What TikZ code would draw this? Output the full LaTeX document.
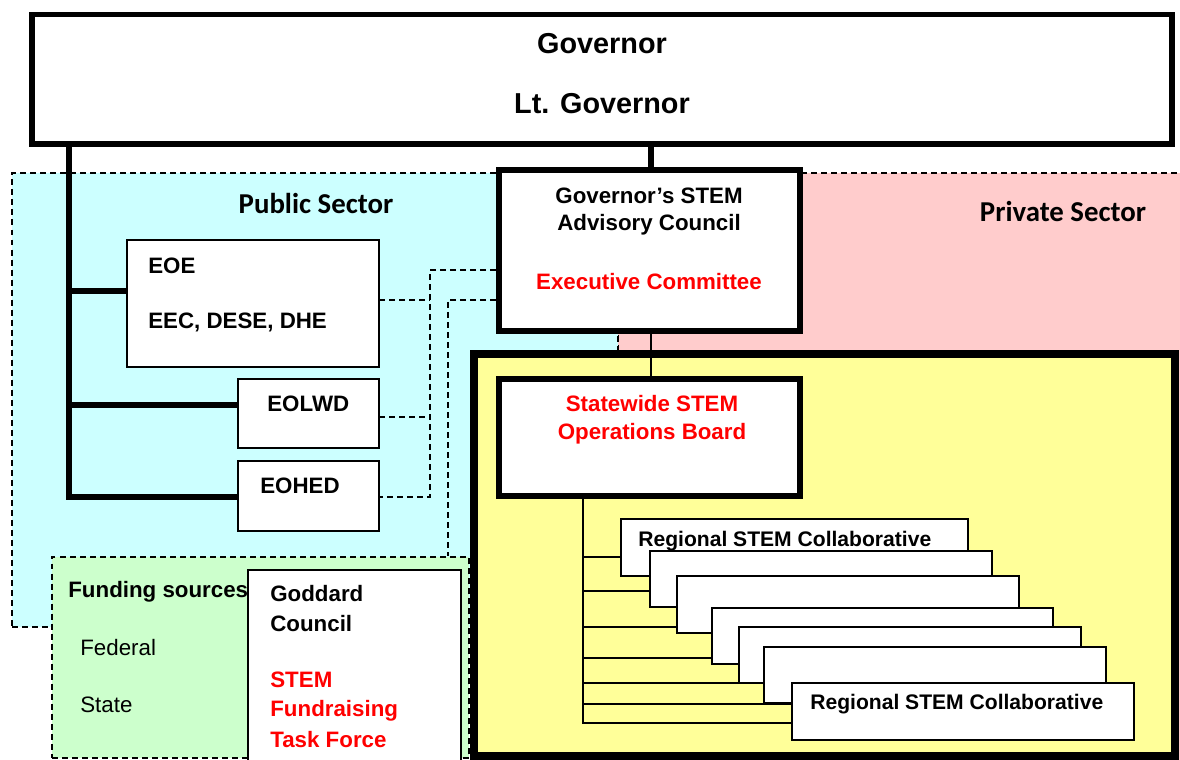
\documentclass[tikz,border=0pt]{standalone}
\usepackage{fontspec}
\setmainfont{Liberation Sans}
\newfontfamily\calfont{Carlito}
\usetikzlibrary{fit}
\definecolor{cyanbg}{HTML}{CCFFFF}
\definecolor{pinkbg}{HTML}{FFCCCC}
\definecolor{yelbg}{HTML}{FFFF99}
\definecolor{grnbg}{HTML}{CCFFCC}
\definecolor{redtxt}{HTML}{FF0000}
\tikzset{
  heavy/.style={draw=black, line width=3.3pt, fill=white, inner sep=0pt},
  yelbox/.style={draw=black, line width=4pt, fill=yelbg, inner sep=0pt},
  light/.style={draw=black, line width=0.8pt, fill=white, inner sep=0pt},
  region/.style={draw=black, line width=0.8pt, dash pattern=on 3.4pt off 2.3pt, inner sep=0pt},
  dsh/.style={line width=0.8pt, dash pattern=on 3.4pt off 2.3pt},
  trunk/.style={line width=3.2pt},
  twig/.style={line width=1pt},
  txt/.style={inner sep=0pt, font=\fontsize{12.7}{15}\selectfont\bfseries},
  plain/.style={inner sep=0pt, font=\fontsize{12.7}{15}\selectfont},
  big/.style={inner sep=0pt, font=\fontsize{16.4}{19}\selectfont\bfseries},
  sector/.style={inner sep=0pt, font=\fontsize{16.4}{19}\selectfont\calfont\bfseries},
  reg/.style={inner sep=0pt, font=\fontsize{12}{14}\selectfont\bfseries},
  redt/.style={text=redtxt}
}
\begin{document}
\begin{tikzpicture}[x=0.02cm,y=-0.02cm]
\useasboundingbox (0,0) rectangle (1180,760);
\clip (0,0) rectangle (1180,760);
% sectors
\node[region, fill=pinkbg, fit={(618,173) (1200,790)}] (priv) {};
\node[region, fill=cyanbg, fit={(12,173) (618,627)}] (pub) {};
\node[sector] (pubt) at (316,203) {Public Sector};
\node[sector] (privt) at (1063,211) {Private Sector};
% governor
\node[heavy, fit={(32,14.5) (1172,144)}] (gov) {};
\node[big] (govt) at (602,44) {Governor};
\node[big] (ltgt) at (602,104) {Lt. Governor};
% public sector boxes
\node[light, fit={(127,240) (379,367)}] (eoe) {};
\node[txt, anchor=west] (eoet) at (148,266) {EOE};
\node[txt, anchor=west] (eect) at (148,322) {EEC, DESE, DHE};
\node[light, fit={(238,379) (379,448)}] (eolwd) {};
\node[txt, anchor=west] (eolwdt) at (267,404) {EOLWD};
\node[light, fit={(238,461) (379,531)}] (eohed) {};
\node[txt, anchor=west] (eohedt) at (260,486) {EOHED};
% governor trunk
\coordinate (trk) at (69,0);
\coordinate (b1) at (69,291);
\coordinate (b2) at (69,405);
\coordinate (b3) at (69,497);
\draw[trunk] (gov.south -| trk) -- (b3) -- (b3 -| eohed.west);
\draw[trunk] (b1) -- (b1 -| eoe.west);
\draw[trunk] (b2) -- (b2 -| eolwd.west);
% funding sources
\node[region, fill=grnbg, fit={(52,557) (469,758)}] (fund) {};
\node[txt, anchor=west] (fundt) at (68,592) {Funding sources};
\node[plain, anchor=west] (fedt) at (80,648) {Federal};
\node[plain, anchor=west] (statet) at (80,705) {State};
\node[light, fit={(248,570) (461,775)}] (godd) {};
\node[txt, anchor=west] (goddt1) at (270,594) {Goddard};
\node[txt, anchor=west] (goddt2) at (270,624) {Council};
\node[txt, redt, anchor=west] (goddt3) at (270,680) {STEM};
\node[txt, redt, anchor=west] (goddt4) at (270,711) {Fundraising};
\node[txt, redt, anchor=west] (goddt5) at (270,740) {Task Force};
% advisory council
\node[heavy, fit={(499,170) (800,331)}] (adv) {};
\node[txt] (advt1) at (649,196) {Governor’s STEM};
\node[txt] (advt2) at (649,225) {Advisory Council};
\node[txt, redt] (advt3) at (649,282) {Executive Committee};
\draw[trunk] (gov.south -| 651,0) -- (adv.north -| 651,0);
% dashed connectors
\coordinate (v1) at (430,270);
\coordinate (v2) at (448,300);
\coordinate (e1) at (379,300);
\coordinate (e2) at (379,417);
\coordinate (e3) at (379,497);
\draw[dsh] (v1 -| adv.west) -- (v1) -- (v1 |- e3) -- (e3);
\draw[dsh] (e1) -- (e1 -| v1);
\draw[dsh] (e2) -- (e2 -| v1);
\draw[dsh] (v2 -| adv.west) -- (v2) -- (v2 |- fund.north);
% yellow region
\node[yelbox, fit={(474,354) (1175,756)}] (yel) {};
\node[heavy, fit={(499,379) (800,496)}] (sw) {};
\node[txt, redt] (swt1) at (652,404) {Statewide STEM};
\node[txt, redt] (swt2) at (652,434) {Operations Board};
\draw[twig] (adv.south -| 651,0) -- (sw.north -| 651,0);
% tree
\coordinate (c1) at (583,557);
\coordinate (c2) at (583,591);
\coordinate (c3) at (583,627);
\coordinate (c4) at (583,658);
\coordinate (c5) at (583,683);
\coordinate (c6) at (583,704);
\coordinate (c7) at (583,723);
\coordinate (rx1) at (621,0);
\coordinate (rx2) at (650,0);
\coordinate (rx3) at (677,0);
\coordinate (rx4) at (712,0);
\coordinate (rx5) at (739,0);
\coordinate (rx7) at (792,0);
\draw[twig] (sw.south -| c1) -- (c7) -- (c7 -| rx7);
\draw[twig] (c1) -- (c1 -| rx1);
\draw[twig] (c2) -- (c2 -| rx2);
\draw[twig] (c3) -- (c3 -| rx3);
\draw[twig] (c4) -- (c4 -| rx4);
\draw[twig] (c5) -- (c5 -| rx5);
\draw[twig] (c6) -- (c6 -| rx7);
\node[light, fit={(rx1 |- 0,519) (968,576)}] (r1) {};
\node[light, fit={(rx2 |- 0,551) (992,607)}] (r2) {};
\node[light, fit={(rx3 |- 0,576) (1019,633)}] (r3) {};
\node[light, fit={(rx4 |- 0,608) (1053,664)}] (r4) {};
\node[light, fit={(rx5 |- 0,627) (1081,683)}] (r5) {};
\node[light, fit={(764,647) (1106,703)}] (r6) {};
\node[light, fit={(rx7 |- 0,683) (1134,740)}] (r7) {};
\node[reg, anchor=west] (r1t) at (638,541) {Regional STEM Collaborative};
\node[reg, anchor=west] (r7t) at (810,704) {Regional STEM Collaborative};
\end{tikzpicture}
\end{document}
